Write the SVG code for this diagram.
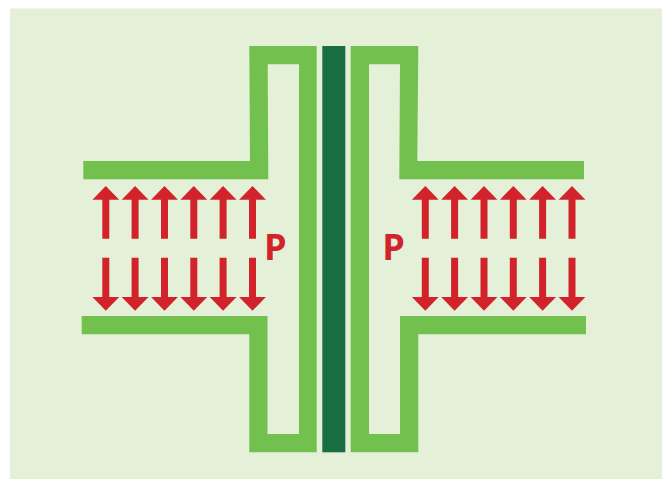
<svg xmlns="http://www.w3.org/2000/svg" width="662" height="479" viewBox="0 0 662 479">
<style>
.w{fill:#72c04e}
.d{fill:#1a6f42}
.p{fill:#d2232a;font-family:"Open Sans",sans-serif;font-weight:700;font-size:36px}
.a{fill:#d2232a}
</style>
<defs>
<path id="up" d="M0 0L13.4 13.7H3.5V52.7H-3.5V13.7H-13.4Z"/>
<path id="dn" d="M0 0L13.4-13.7H3.5V-53H-3.5V-13.7H-13.4Z"/>
</defs>
<rect width="662" height="479" fill="#fff"/>
<rect x="10" y="8.5" width="652" height="470.5" fill="#e4f0d7"/>
<g id="plate-left"><path class="w" d="M83.3 161H250L249.3 46H316.7V452.3H249.3V334.3H81.7V316H267.5V434H299V64.3H267.7L268.3 179.3H83.3Z"/></g>
<g id="plate-right"><path class="w" d="M350.7 46H418.3L417.3 161H584V179.3H399.3L400 64.3H369V434H400V316H586V334.3H418.3V452.3H350.7Z"/></g>
<g id="core"><rect class="d" x="322.3" y="46" width="23" height="406.3"/></g>
<g id="arrows-left" class="a">
<use href="#up" x="105.8" y="186"/><use href="#up" x="135.1" y="186"/><use href="#up" x="164.5" y="186"/><use href="#up" x="193.8" y="186"/><use href="#up" x="223.1" y="186"/><use href="#up" x="252.5" y="186"/>
<use href="#dn" x="105.8" y="310.7"/><use href="#dn" x="135.1" y="310.7"/><use href="#dn" x="164.5" y="310.7"/><use href="#dn" x="193.8" y="310.7"/><use href="#dn" x="223.1" y="310.7"/><use href="#dn" x="252.5" y="310.7"/>
</g>
<g id="arrows-right" class="a">
<use href="#up" x="425.3" y="186"/><use href="#up" x="454.6" y="186"/><use href="#up" x="484" y="186"/><use href="#up" x="513.3" y="186"/><use href="#up" x="542.6" y="186"/><use href="#up" x="572" y="186"/>
<use href="#dn" x="425.3" y="310.7"/><use href="#dn" x="454.6" y="310.7"/><use href="#dn" x="484" y="310.7"/><use href="#dn" x="513.3" y="310.7"/><use href="#dn" x="542.6" y="310.7"/><use href="#dn" x="572" y="310.7"/>
</g>
<g id="label-left"><text class="p" x="264" y="260">P</text></g>
<g id="label-right"><text class="p" x="382.3" y="260">P</text></g>
</svg>
